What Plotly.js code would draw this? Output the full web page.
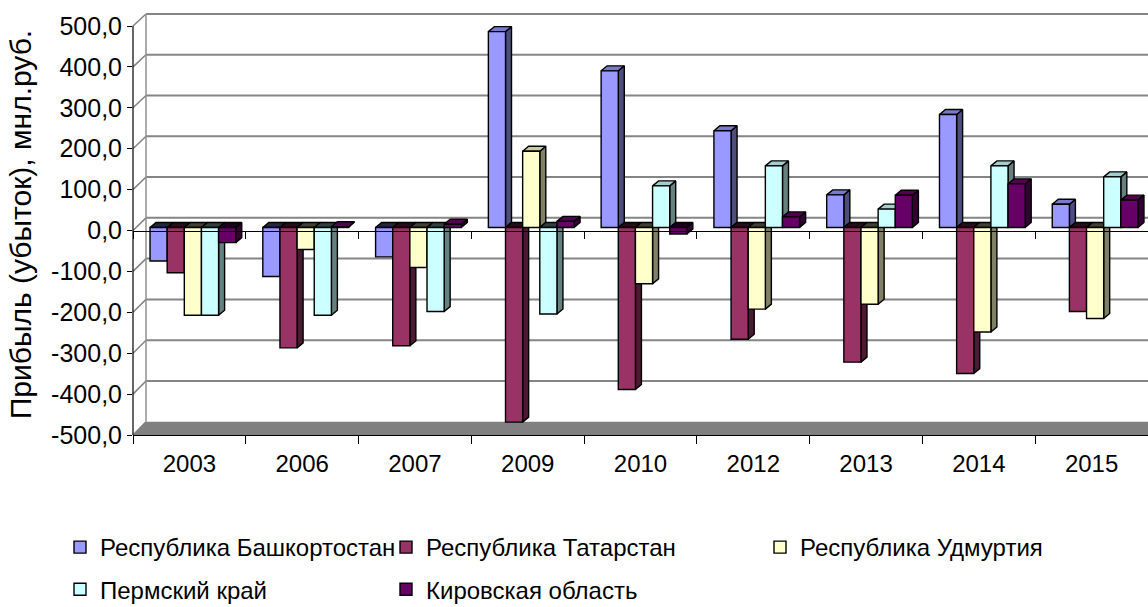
<!DOCTYPE html>
<html><head><meta charset="utf-8">
<script src="https://cdn.plot.ly/plotly-3.0.1.min.js"></script>
<style>html,body{margin:0;padding:0;background:#fff}#chart{width:1148px;height:607px}</style>
</head><body><div id="chart"></div>
<script>
// ---------- data ----------
const years = ['2003','2006','2007','2009','2010','2012','2013','2014','2015'];
const seriesNames = ['Республика Башкортостан','Республика Татарстан','Республика Удмуртия','Пермский край','Кировская область'];
const bashkortostan = [-82,-120,-72,480,384,237,80,277,57];
const tatarstan     = [-111,-295,-290,-477,-397,-274,-330,-358,-206];
const udmurtia      = [-215,-54,-98,187,-138,-200,-188,-256,-223];
const perm          = [-215,-215,-206,-212,102,151,45,151,124];
const kirov         = [-37,2,8,15,-16,26,79,107,67];
const yTicks = [-500,-400,-300,-200,-100,0,100,200,300,400,500];
const yTickText = yTicks.map(v => v.toFixed(1).replace('.', ','));
const yTitle = 'Прибыль (убыток), мнл.руб.';

// ---------- styling / geometry ----------
const seriesValues = [bashkortostan, tatarstan, udmurtia, perm, kirov];
const colors = ['#9999FF','#993366','#FFFFCC','#CCFFFF','#660066'];
const legendOf = ['legend','legend2','legend3','legend','legend2'];
const FONT = 'Arial, "Liberation Sans", sans-serif';
const W = 1148, H = 607;
const plotL = 133, plotR = 1148, plotT = 14, plotB = 435;
const plotW = plotR - plotL, plotH = plotB - plotT;
const nCat = years.length;
const catPx = plotW / nCat;
const idx = years.map((_, i) => i);
const bounds = idx.map(i => i - 0.5).concat([nCat - 0.5]);

function yRange(zeroPx, scale) { return [-(plotB - zeroPx) / scale, (zeroPx - plotT) / scale]; }
const frontZero = 230.5, frontScale = (plotB - 230.5) / 500;
const barZero = 227.5, barScale = 0.408;
const back500 = 14, backM500 = 421.7;
const frontRange = yRange(frontZero, frontScale);
frontRange[0] -= 0.01;
const barYRange = yRange(barZero, barScale);
const barShift = 3.5 / catPx;
const barXRange = [-0.5 - barShift, nCat - 0.5 - barShift];
const catRange = [-0.5, nCat - 0.5];
const depthX = 6 / catPx, depthY = 5 / barScale;

const px2x = px => (px - plotL) / plotW;
const px2y = py => (plotB - py) / plotH;
const frontY = v => frontZero - v * frontScale;
const backY = v => back500 + (500 - v) * (backM500 - back500) / 1000;
const wallX = 146;

function shade(hex, f) {
  const n = parseInt(hex.slice(1), 16);
  const r = Math.round(((n >> 16) & 255) * f), g = Math.round(((n >> 8) & 255) * f), b = Math.round((n & 255) * f);
  return 'rgb(' + r + ',' + g + ',' + b + ')';
}

const bargap = 0.24;
const bw = (1 - bargap) / seriesValues.length;
const edge = 1.4;

// ---------- 3D faces (computed from the data) ----------
const sideTraces = [], topTraces = [];
seriesValues.forEach((vals, s) => {
  const sx = [], sy = [], tpx = [], tpy = [], tnx = [], tny = [];
  vals.forEach((v, j) => {
    const c = j + (s - (seriesValues.length - 1) / 2) * bw;
    const xl = c - bw / 2, xr = c + bw / 2;
    sx.push(xr, xr + depthX, xr + depthX, xr, xr, null);
    sy.push(0, depthY, v + depthY, v, 0, null);
    const t = Math.max(v, 0);
    const X = v > 0 ? tpx : tnx, Y = v > 0 ? tpy : tny;
    X.push(xl, xl + depthX, xr + depthX, xr, xl, null);
    Y.push(t, t + depthY, t + depthY, t, t, null);
  });
  const base = {type: 'scatter', mode: 'lines', fill: 'toself', xaxis: 'x', yaxis: 'y',
    line: {color: '#000', width: edge}, showlegend: false, hoverinfo: 'skip'};
  sideTraces.push(Object.assign({}, base, {x: sx, y: sy, fillcolor: shade(colors[s], 0.5)}));
  topTraces.push(Object.assign({}, base, {x: tpx, y: tpy, fillcolor: shade(colors[s], 0.8)}));
  topTraces.push(Object.assign({}, base, {x: tnx, y: tny, fillcolor: shade(colors[s], 0.25)}));
});

const barTraces = seriesValues.map((vals, s) => ({
  type: 'bar', x: idx, y: vals, name: seriesNames[s], xaxis: 'x2', yaxis: 'y2',
  marker: {color: colors[s], line: {color: '#000', width: edge}},
  legend: legendOf[s], legendgroup: seriesNames[s], hoverinfo: 'skip'
}));

// empty carrier traces so the front axes (labels, ticks, zero line) get drawn
const axisCarriers = [['x3','y3'], ['x4','y3'], ['x5','y3']].map(([xa, ya]) => ({
  type: 'scatter', mode: 'markers', x: [], y: [], xaxis: xa, yaxis: ya, showlegend: false, hoverinfo: 'skip'
}));

// ---------- decorations: back wall, floor, connectors ----------
const shapes = [];
shapes.push({type: 'path', xref: 'paper', yref: 'paper', layer: 'below',
  path: 'M' + px2x(plotL) + ',' + px2y(plotB) + ' L' + px2x(wallX) + ',' + px2y(backM500) +
        ' L' + px2x(plotR) + ',' + px2y(backM500) + ' L' + px2x(plotR) + ',' + px2y(plotB) + ' Z',
  fillcolor: '#808080', line: {width: 0}});
yTicks.forEach(v => {
  if (v > -500) shapes.push({type: 'line', xref: 'paper', yref: 'paper', layer: 'below',
    x0: px2x(wallX), x1: 1, y0: px2y(backY(v)), y1: px2y(backY(v)), line: {color: '#858585', width: 2}});
  shapes.push({type: 'line', xref: 'paper', yref: 'paper', layer: 'below',
    x0: px2x(plotL), x1: px2x(wallX), y0: px2y(frontY(v)), y1: px2y(backY(v)), line: {color: '#808080', width: 1.5}});
});
shapes.push({type: 'line', xref: 'paper', yref: 'paper', layer: 'below',
  x0: px2x(wallX), x1: px2x(wallX), y0: px2y(backY(500)), y1: px2y(backY(-500)), line: {color: '#909090', width: 1.5}});
shapes.push({type: 'line', xref: 'paper', yref: 'paper', layer: 'above',
  x0: px2x(plotL), x1: px2x(plotL), y0: px2y(frontY(500)), y1: px2y(plotB), line: {color: '#000', width: 1.2}});

const hidden = {visible: false, showgrid: false, zeroline: false, fixedrange: true};
const legendBase = {xref: 'paper', yref: 'paper', xanchor: 'left', yanchor: 'top',
  orientation: 'v', font: {family: FONT, size: 24, color: '#000'}, bgcolor: 'rgba(0,0,0,0)',
  tracegroupgap: 8, itemclick: false, itemdoubleclick: false, traceorder: 'grouped'};
const legendTop = px2y(525);

const layout = {
  width: W, height: H,
  margin: {l: plotL, r: W - plotR, t: plotT, b: H - plotB, pad: 0, autoexpand: false},
  paper_bgcolor: '#fff', plot_bgcolor: 'rgba(0,0,0,0)',
  font: {family: FONT, color: '#000'},
  barmode: 'group', bargap: bargap, bargroupgap: 0,
  hovermode: false, showlegend: true,
  xaxis: Object.assign({range: barXRange}, hidden),
  yaxis: Object.assign({range: barYRange}, hidden),
  xaxis2: Object.assign({range: barXRange, overlaying: 'x', anchor: 'y2'}, hidden),
  yaxis2: Object.assign({range: barYRange, overlaying: 'y', anchor: 'x2'}, hidden),
  yaxis3: {overlaying: 'y', anchor: 'x3', side: 'left', range: frontRange, fixedrange: true,
    tickmode: 'array', tickvals: yTicks, ticktext: yTickText, ticks: 'outside', ticklen: 5,
    tickcolor: '#000', tickwidth: 1, showline: false, showgrid: false, zeroline: false,
    tickfont: {family: FONT, size: 25, color: '#000'},
    title: {text: yTitle, font: {family: FONT, size: 30, color: '#000'}, standoff: 10}},
  xaxis3: {overlaying: 'x', anchor: 'y3', side: 'bottom', range: catRange, fixedrange: true,
    tickmode: 'array', tickvals: idx, ticktext: years, ticks: '', showline: false, showgrid: false,
    zeroline: false, ticklabelstandoff: 12, tickfont: {family: FONT, size: 24, color: '#000'}},
  xaxis4: {overlaying: 'x', anchor: 'y3', side: 'bottom', range: catRange, fixedrange: true,
    tickmode: 'array', tickvals: bounds, ticks: 'outside', ticklen: 8, tickcolor: '#000',
    showticklabels: false, showline: true, linecolor: '#000', linewidth: 1.2, showgrid: false, zeroline: false},
  xaxis5: {overlaying: 'x', anchor: 'free', position: px2y(frontZero), side: 'bottom',
    range: catRange, fixedrange: true, tickmode: 'array', tickvals: bounds,
    ticks: 'outside', ticklen: 7, tickcolor: '#000', showticklabels: false, showline: true,
    linecolor: '#000', linewidth: 1.2, showgrid: false, zeroline: false},
  legend: Object.assign({}, legendBase, {x: px2x(60), y: legendTop}),
  legend2: Object.assign({}, legendBase, {x: px2x(386), y: legendTop}),
  legend3: Object.assign({}, legendBase, {x: px2x(760), y: legendTop}),
  shapes: shapes
};

Plotly.newPlot('chart', sideTraces.concat(topTraces, barTraces, axisCarriers), layout, {displayModeBar: false, staticPlot: true});
</script>
</body></html>
